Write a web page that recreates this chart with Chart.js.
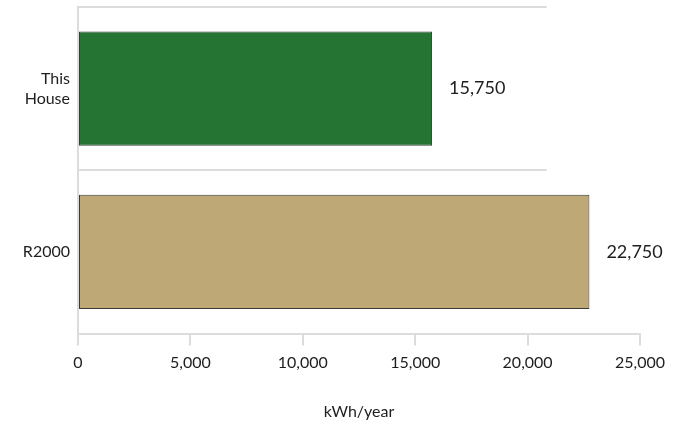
<!DOCTYPE html>
<html>
<head>
<meta charset="utf-8">
<script src="https://cdn.jsdelivr.net/npm/chart.js@4/dist/chart.umd.min.js"></script>
<style>
  html, body { margin: 0; padding: 0; background: #fff; }
  #wrap { width: 678px; height: 425px; }
</style>
</head>
<body>
<div id="wrap"><canvas id="c"></canvas></div>
<script>
// Annual energy use, this house vs. the R2000 reference
const categories = [['This', 'House'], 'R2000'];
const consumption = [15750, 22750];
const barColors = ['#267434', '#BDA876'];
const xTickValues = [0, 5000, 10000, 15000, 20000, 25000];
const xTitle = 'kWh/year';

const FONT = 'Lato, "Open Sans", sans-serif';
const GRID = '#dcdcdc';
const TEXT = '#1e1e1e';
// value at which the category separators stop
const SEPARATOR_END = 20850;

const fmt = v => v.toLocaleString('en-US');

// Light separators between the category bands
const separators = {
  id: 'separators',
  beforeDatasetsDraw(chart) {
    const { ctx, chartArea, scales: { x, y } } = chart;
    const xEnd = x.getPixelForValue(SEPARATOR_END);
    ctx.save();
    ctx.strokeStyle = GRID;
    ctx.lineWidth = 2;
    for (let i = 0; i < categories.length; i++) {
      const py = Math.round(y.getPixelForValue(i - 0.5));
      ctx.beginPath();
      ctx.moveTo(chartArea.left - 1, py);
      ctx.lineTo(xEnd, py);
      ctx.stroke();
    }
    ctx.restore();
  }
};

// Value labels to the right of each bar
const valueLabels = {
  id: 'valueLabels',
  afterDatasetsDraw(chart) {
    const { ctx } = chart;
    const meta = chart.getDatasetMeta(0);
    ctx.save();
    ctx.font = '18px ' + FONT;
    ctx.fillStyle = TEXT;
    ctx.textAlign = 'left';
    ctx.textBaseline = 'middle';
    meta.data.forEach((bar, i) => {
      ctx.fillText(fmt(consumption[i]), bar.x + 17, bar.y);
    });
    ctx.restore();
  }
};

new Chart(document.getElementById('c'), {
  type: 'bar',
  data: {
    labels: categories,
    datasets: [{
      data: consumption,
      backgroundColor: barColors,
      borderColor: '#3a3a3a',
      borderWidth: 1,
      borderSkipped: false,
      barPercentage: 0.7,
      categoryPercentage: 1.0
    }]
  },
  options: {
    indexAxis: 'y',
    responsive: true,
    maintainAspectRatio: false,
    animation: false,
    layout: { padding: { top: 7, right: 38, left: 0, bottom: 0 } },
    plugins: {
      legend: { display: false },
      tooltip: { enabled: false }
    },
    scales: {
      x: {
        type: 'linear',
        min: 0,
        max: 25000,
        afterBuildTicks(scale) {
          scale.ticks = xTickValues.map(v => ({ value: v }));
        },
        grid: {
          drawOnChartArea: false,
          drawTicks: true,
          tickLength: 12,
          color: GRID,
          lineWidth: 2
        },
        border: { display: true, color: GRID, width: 2 },
        ticks: {
          padding: 8,
          color: TEXT,
          font: { family: FONT, size: 16 },
          callback: v => fmt(v)
        },
        title: {
          display: true,
          text: xTitle,
          color: TEXT,
          font: { family: FONT, size: 16 },
          padding: { top: 21, bottom: 4 }
        }
      },
      y: {
        type: 'category',
        offset: true,
        afterFit(scale) {
          scale.width = 78;
          scale.paddingTop = 0;
          scale.paddingBottom = 0;
        },
        grid: { display: false, drawTicks: false },
        border: { display: true, color: GRID, width: 2 },
        ticks: {
          padding: 8,
          color: TEXT,
          font: { family: FONT, size: 16, lineHeight: 1.25 }
        }
      }
    }
  },
  plugins: [separators, valueLabels]
});
</script>
</body>
</html>
